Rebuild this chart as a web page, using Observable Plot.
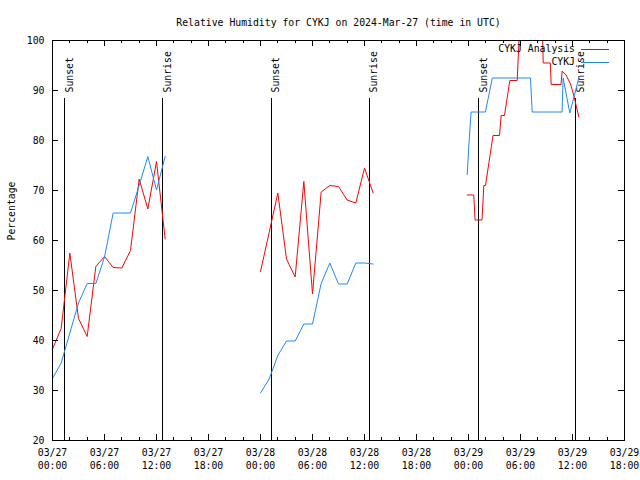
<!DOCTYPE html>
<html><head><meta charset="utf-8">
<script src="https://cdn.jsdelivr.net/npm/d3@7"></script>
<script src="https://cdn.jsdelivr.net/npm/@observablehq/plot@0.6"></script>
<style>body{margin:0;background:#fff} svg{display:block}</style>
</head><body><div id="chart"></div>
<script>
// hours since 2024-03-27 00:00 UTC
const titleText = "Relative Humidity for CYKJ on 2024-Mar-27 (time in UTC)";
const yLabel = "Percentage";
const seriesNames = ["CYKJ Analysis", "CYKJ"];
const seriesColors = ["#ff0000", "#1e88ff"];

const redDay1T = [0,1,2,3,4,5,6,7,8,9,10,11,12,13];
const redDay1V = [38.3,42.4,57.5,44.4,40.8,54.8,56.8,54.6,54.5,58,72.3,66.3,75.8,60.3];
const blueDay1T = [0,1,2,3,4,5,6,7,8,9,10,11,12,13];
const blueDay1V = [32.4,35.5,41.5,47.5,51.4,51.4,56.7,65.5,65.5,65.5,71,76.8,70.1,76.8];

const redDay2T = [24,25,26,27,28,29,30,31,32,33,34,35,36,37];
const redDay2V = [53.8,61.6,69.5,56.3,52.7,71.8,49.3,69.7,71,70.8,68.1,67.5,74.5,69.5];
const blueDay2T = [24,25,26,27,28,29,30,31,32,33,34,35,36,37];
const blueDay2V = [29.5,32.3,37,39.9,39.9,43.3,43.3,51.4,55.5,51.3,51.3,55.5,55.5,55.3];

const redDay3T = [47.85,48.61,48.75,49.56,49.77,49.96,50.83,51.58,51.77,52.15,52.77,53.62,53.83,54.34,54.46,56.54,56.62,57.44,57.54,58.67,58.81,59.25,59.77,60.15,60.73];
const redDay3V = [69.1,69.1,64.1,64.1,71,71,81,81,85,85,92,92,100,100,101.5,101.5,95.5,95.5,91.2,91.2,93.9,93.1,91.3,89,84.7];
const blueDay3T = [47.85,48.05,48.3,49.95,50.75,55.15,55.35,58.8,58.92,59.69,60.73];
const blueDay3V = [73.2,79.3,85.7,85.7,92.5,92.5,85.7,85.7,92.5,85.5,92.5];

const sunT = [1.42,12.73,25.27,36.58,49.19,60.38];
const sunLabels = ["Sunset","Sunrise","Sunset","Sunrise","Sunset","Sunrise"];

const xTickHours = [0,6,12,18,24,30,36,42,48,54,60,66];
const xTickDates = ["03/27","03/27","03/27","03/27","03/28","03/28","03/28","03/28","03/29","03/29","03/29","03/29"];
const xTickTimes = ["00:00","06:00","12:00","18:00","00:00","06:00","12:00","18:00","00:00","06:00","12:00","18:00"];
const xMinorHours = d3.range(0, 67, 2).filter(h => h % 6 !== 0);
const yTicks = [20,30,40,50,60,70,80,90,100];

function rows(T, V, seg) { return T.map((t, i) => ({t, v: V[i], seg})); }
const redRows = [...rows(redDay1T, redDay1V, 1), ...rows(redDay2T, redDay2V, 2), ...rows(redDay3T, redDay3V, 3)];
const blueRows = [...rows(blueDay1T, blueDay1V, 1), ...rows(blueDay2T, blueDay2V, 2), ...rows(blueDay3T, blueDay3V, 3)];
const sunRows = sunT.map((t, i) => ({t, label: sunLabels[i]}));
const tickLabel = new Map(xTickHours.map((h, i) => [h, xTickDates[i] + "\n" + xTickTimes[i]]));

// inward tick marks on all four sides, placed through Plot's own scales
const tickMark = (index, scales, values, dims) => {
  const g = d3.create("svg:g").attr("stroke", "black").attr("stroke-width", 1).attr("shape-rendering", "crispEdges");
  const top = dims.marginTop, bottom = dims.height - dims.marginBottom;
  const left = dims.marginLeft, right = dims.width - dims.marginRight;
  const add = (x1, y1, x2, y2) => g.append("line").attr("x1", x1).attr("y1", y1).attr("x2", x2).attr("y2", y2);
  xTickHours.forEach(h => { const x = Math.round(scales.x(h)) + 0.5; add(x, bottom, x, bottom - 6); add(x, top, x, top + 6); });
  xMinorHours.forEach(h => { const x = Math.round(scales.x(h)) + 0.5; add(x, bottom, x, bottom - 3); add(x, top, x, top + 3); });
  yTicks.forEach(v => { const y = Math.round(scales.y(v)) + 0.5; add(left, y, left + 6, y); add(right, y, right - 6, y); });
  return g.node();
};

const legendMark = (index, scales, values, dims) => {
  const g = d3.create("svg:g");
  const right = dims.width - dims.marginRight;
  seriesNames.forEach((name, i) => {
    const y = dims.marginTop + 9 + 13 * i;
    g.append("line").attr("x1", right - 43).attr("x2", right - 15).attr("y1", y).attr("y2", y)
      .attr("stroke", seriesColors[i]).attr("stroke-width", 1).attr("shape-rendering", "crispEdges");
    g.append("text").attr("x", right - 49).attr("y", y).attr("dy", "0.32em")
      .attr("text-anchor", "end").attr("fill", "black").text(name);
  });
  return g.node();
};

const chart = Plot.plot({
  width: 640, height: 480,
  marginLeft: 52, marginRight: 16, marginTop: 40, marginBottom: 40,
  style: {fontFamily: "'DejaVu Sans Mono', monospace", fontSize: "9.8px", background: "white", color: "black"},
  x: {domain: [0, 66]},
  y: {domain: [20, 100]},
  marks: [
    Plot.axisY({anchor: "left", ticks: yTicks, tickSize: 0, tickPadding: 8, label: null}),
    Plot.axisX({anchor: "bottom", ticks: xTickHours, tickSize: 0, tickPadding: 6, lineHeight: 1.33, tickFormat: (d) => tickLabel.get(d), label: null}),
    Plot.text([titleText], {frameAnchor: "top", dy: -21, text: d => d}),
    Plot.text([yLabel], {frameAnchor: "left", dx: -41, rotate: -90, text: d => d}),
    Plot.ruleX(sunRows, {x: "t", stroke: "black", insetTop: 58, shapeRendering: "crispEdges"}),
    Plot.text(sunRows, {x: "t", text: "label", frameAnchor: "top", dy: 52, dx: 1, rotate: -90, textAnchor: "start"}),
    Plot.line(redRows, {x: "t", y: "v", z: "seg", stroke: seriesColors[0], strokeWidth: 1, clip: true}),
    Plot.line(blueRows, {x: "t", y: "v", z: "seg", stroke: seriesColors[1], strokeWidth: 1, clip: true}),
    legendMark,
    tickMark,
    Plot.frame({stroke: "black", shapeRendering: "crispEdges"})
  ]
});
document.getElementById("chart").appendChild(chart);
</script>
</body></html>
